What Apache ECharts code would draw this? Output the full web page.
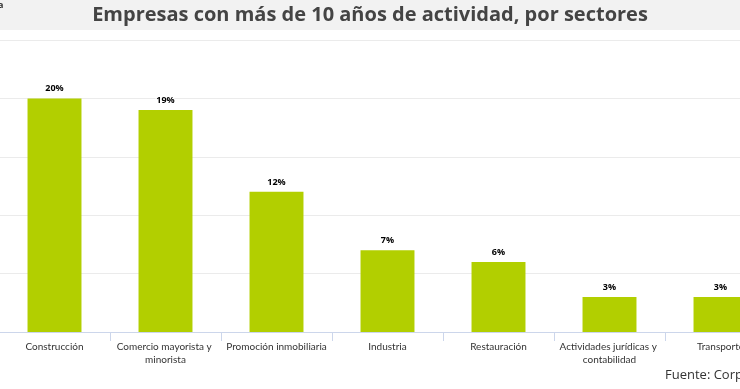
<!DOCTYPE html>
<html><head><meta charset="utf-8">
<script src="https://cdn.jsdelivr.net/npm/echarts@6/dist/echarts.min.js"></script>
<style>html,body{margin:0;padding:0;background:#fff}#c{width:740px;height:389px}</style>
</head><body><div id="c"></div>
<script>
const categories = ["Construcción","Comercio mayorista y minorista","Promoción inmobiliaria","Industria","Restauración","Actividades jurídicas y contabilidad","Transporte"];
const values = [20,19,12,7,6,3,3];
const yTicks = [0,5,10,15,20,25];

const chart = echarts.init(document.getElementById('c'));
chart.setOption({
  animation:false,
  backgroundColor:'#fff',
  graphic:[
    {type:'rect',shape:{x:0,y:0,width:740,height:30},style:{fill:'#f2f2f2'},z:-1},
    {type:'text',x:-29,y:1,style:{text:'Gráfica',font:'bold 9px "Open Sans"',fill:'#333'}},
    {type:'text',x:665,y:369,style:{text:'Fuente: Corporación',font:'13px "Open Sans"',fill:'#333'}}
  ],
  title:{text:'Empresas con más de 10 años de actividad, por sectores',left:'center',top:0,
    textStyle:{fontFamily:'Open Sans',fontWeight:'bold',fontSize:20,color:'#444'}},
  grid:{left:-1,top:40,width:777,height:292,containLabel:false,outerBoundsMode:'none'},
  xAxis:{type:'category',data:categories,
    axisLine:{lineStyle:{color:'#ccd6eb'}},
    axisTick:{show:true,length:9,lineStyle:{color:'#ccd6eb'}},
    axisLabel:{interval:0,width:108,overflow:'break',fontFamily:'Lato',fontSize:10,color:'#333',lineHeight:13,margin:8}},
  yAxis:{type:'value',min:yTicks[0],max:yTicks[yTicks.length-1],interval:5,
    axisLabel:{show:false},axisLine:{show:false},axisTick:{show:false},
    splitLine:{lineStyle:{color:'#ebebeb'}}},
  series:[{type:'bar',data:values,barWidth:'48.6%',
    itemStyle:{color:'#b2cf00'},
    label:{show:true,position:'top',distance:5,formatter:'{c}%',fontFamily:'Open Sans',fontWeight:'bold',fontSize:9,color:'#000',textBorderColor:'#fff',textBorderWidth:2}}]
});
</script></body></html>
